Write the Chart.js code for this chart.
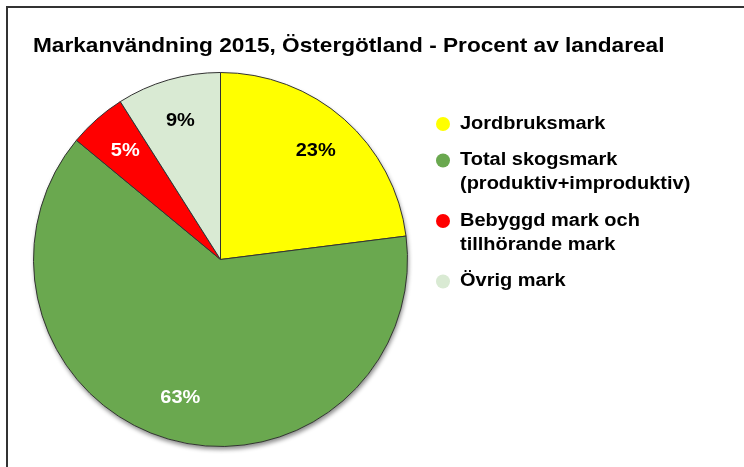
<!DOCTYPE html>
<html>
<head>
<meta charset="utf-8">
<script src="https://cdn.jsdelivr.net/npm/chart.js@4/dist/chart.umd.min.js"></script>
<style>
  html, body { margin: 0; padding: 0; background: #fff; }
  #wrap { position: relative; width: 744px; height: 467px; }
  canvas { display: block; }
</style>
</head>
<body>
<div id="wrap"><canvas id="c" width="744" height="467"></canvas></div>
<script>
const title = 'Markanvändning 2015, Östergötland - Procent av landareal';
const categories = ['Jordbruksmark', 'Total skogsmark (produktiv+improduktiv)', 'Bebyggd mark och tillhörande mark', 'Övrig mark'];
const legendLines = [['Jordbruksmark'], ['Total skogsmark', '(produktiv+improduktiv)'], ['Bebyggd mark och', 'tillhörande mark'], ['Övrig mark']];
const values = [23, 63, 5, 9];
const sliceColors = ['#FFFF00', '#6AA84F', '#FF0000', '#D9EAD3'];
const labelColors = ['#000000', '#FFFFFF', '#FFFFFF', '#000000'];

const FONT = '"Liberation Sans", Arial, sans-serif';
const SX = 1.11;

function stretchedText(ctx, text, x, y) {
  ctx.save();
  ctx.translate(x, y);
  ctx.scale(SX, 1);
  ctx.fillText(text, 0, 0);
  ctx.restore();
}

const decor = {
  id: 'decor',
  beforeDraw(chart) {
    const ctx = chart.ctx;
    ctx.save();
    ctx.fillStyle = '#fff';
    ctx.fillRect(0, 0, chart.width, chart.height);
    // frame (left and top edges)
    ctx.strokeStyle = '#333';
    ctx.lineWidth = 2;
    ctx.beginPath();
    ctx.moveTo(7, 467);
    ctx.lineTo(7, 7);
    ctx.lineTo(744, 7);
    ctx.stroke();
    // title
    ctx.fillStyle = '#000';
    ctx.font = 'bold 20.4px ' + FONT;
    ctx.textBaseline = 'alphabetic';
    ctx.textAlign = 'left';
    stretchedText(ctx, title, 33, 52);
    ctx.restore();
  },
  beforeDatasetsDraw(chart) {
    const arc = chart.getDatasetMeta(0).data[0];
    if (!arc) return;
    const ctx = chart.ctx;
    ctx.save();
    ctx.shadowColor = 'rgba(0,0,0,0.45)';
    ctx.shadowBlur = 4;
    ctx.shadowOffsetX = 1;
    ctx.shadowOffsetY = 3;
    ctx.fillStyle = '#fff';
    ctx.beginPath();
    ctx.arc(arc.x, arc.y, arc.outerRadius, 0, Math.PI * 2);
    ctx.fill();
    ctx.restore();
  },
  afterDatasetsDraw(chart) {
    const ctx = chart.ctx;
    const meta = chart.getDatasetMeta(0);
    ctx.save();
    ctx.font = 'bold 18px ' + FONT;
    ctx.textBaseline = 'middle';
    meta.data.forEach((a, i) => {
      const mid = (a.startAngle + a.endAngle) / 2;
      const r = a.outerRadius * 0.77;
      const x = a.x + Math.cos(mid) * r;
      const y = a.y + Math.sin(mid) * r;
      const txt = values[i] + '%';
      ctx.fillStyle = labelColors[i];
      const w = ctx.measureText(txt).width * SX;
      stretchedText(ctx, txt, x - w / 2, y);
    });
    // legend
    ctx.font = 'bold 18px ' + FONT;
    ctx.textBaseline = 'middle';
    let y = 124;
    legendLines.forEach((lines, i) => {
      ctx.fillStyle = sliceColors[i];
      ctx.beginPath();
      ctx.arc(443, y, 7, 0, Math.PI * 2);
      ctx.fill();
      ctx.fillStyle = '#000';
      lines.forEach((ln, j) => {
        stretchedText(ctx, ln, 460, y + j * 24);
      });
      y += (lines.length - 1) * 24 + 36.5;
    });
    ctx.restore();
  }
};

new Chart(document.getElementById('c'), {
  type: 'pie',
  data: {
    labels: categories,
    datasets: [{
      data: values,
      backgroundColor: sliceColors,
      borderColor: '#333333',
      borderWidth: 1
    }]
  },
  options: {
    responsive: false,
    animation: false,
    events: [],
    layout: { padding: { left: 33, top: 72, right: 336, bottom: 20 } },
    plugins: {
      legend: { display: false },
      title: { display: false },
      tooltip: { enabled: false }
    }
  },
  plugins: [decor]
});
</script>
</body>
</html>
